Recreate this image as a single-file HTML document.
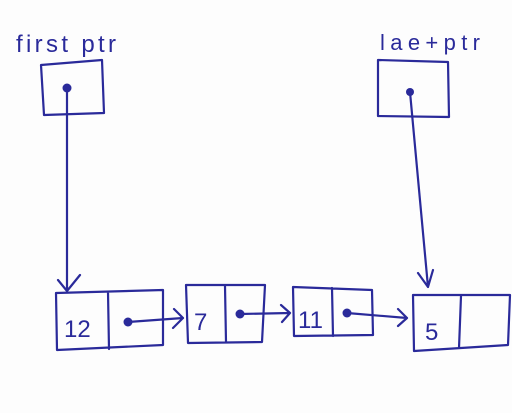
<!DOCTYPE html>
<html><head><style>body{margin:0;background:#fff}</style></head><body>
<svg width="512" height="413" viewBox="0 0 512 413" xmlns="http://www.w3.org/2000/svg" style="display:block">
<rect width="512" height="413" fill="#fdfdfd"/>
<g stroke="#2a2a9a" stroke-width="2.2" fill="none" stroke-linecap="round" stroke-linejoin="round">
<path d="M41 65 L102 60 L104 113 L44 115 Z"/>
<path d="M378 60 L448 62 L449 117 L378 116 Z"/>
<path d="M67 88 L67 291 M58 280 L67 291 L80 275"/>
<path d="M410 92 L428 287 M418 273 L428 287 L433 270"/>
<path d="M56 293 L163 290 L163 345 L57 350 Z M108 292 L109 349"/>
<path d="M186 285 L265 285 L262 342 L188 343 Z M225 286 L226 342"/>
<path d="M293 287 L372 290 L373 335 L294 336 Z M332 288 L333 336"/>
<path d="M413 295 L510 295 L508 345 L414 351 Z M461 296 L459 348"/>
<path d="M128 322 L183 318 M174 309 L183 318 L173 328"/>
<path d="M240 314 L290 313 M281 305 L290 313 L282 322"/>
<path d="M347 313 L407 318 M398 309 L407 318 L398 326"/>
</g>
<g fill="#2a2a9a">
<circle cx="67" cy="88" r="4.5"/><circle cx="410" cy="92" r="4"/>
<circle cx="128" cy="322" r="4.5"/><circle cx="240" cy="314" r="4.5"/><circle cx="347" cy="313" r="4.5"/>
</g>
<g fill="#2a2a9a" font-family="'Liberation Sans',sans-serif">
<text x="16" y="52" font-size="24" textLength="100">first ptr</text>
<text x="380" y="50" font-size="22" textLength="100">lae+ptr</text>
<text x="64" y="337" font-size="24">12</text>
<text x="194" y="330" font-size="24">7</text>
<text x="298" y="328" font-size="24">11</text>
<text x="425" y="340" font-size="24">5</text>
</g>
</svg>
</body></html>
